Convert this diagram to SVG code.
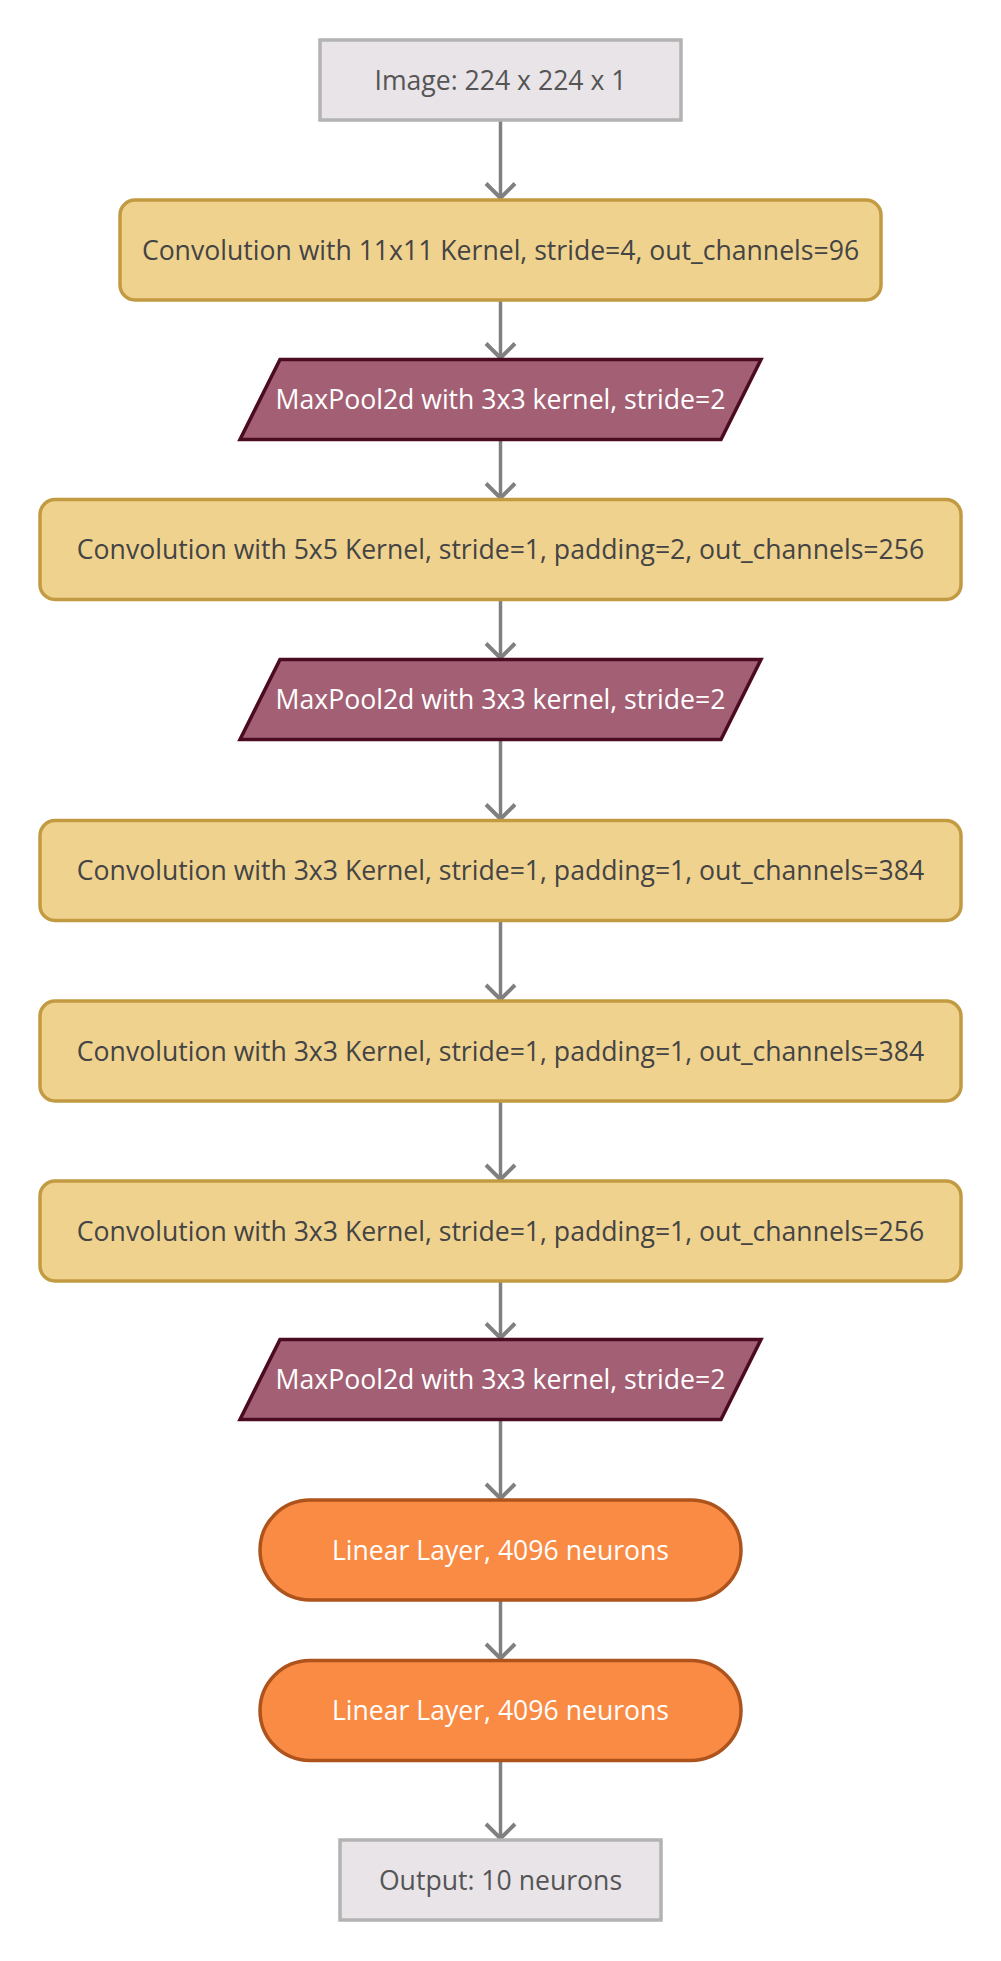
<svg xmlns="http://www.w3.org/2000/svg" width="1001" height="1961" viewBox="0 0 1001 1961">
<defs>
<style>
text{font-family:"Open Sans","Noto Sans","DejaVu Sans",sans-serif;font-size:26.6px;text-anchor:middle}
.io rect{fill:#e8e4e8;stroke:#b3b3b3;stroke-width:3.5}
.io text{fill:#555555}
.conv rect{fill:#f0d28f;stroke:#c29a42;stroke-width:3.5}
.conv text{fill:#444444}
.pool polygon{fill:#a36075;stroke:#4b0c22;stroke-width:3.5}
.pool text{fill:#ffffff}
.lin rect{fill:#f98b45;stroke:#ad531b;stroke-width:3.5}
.lin text{fill:#ffffff}
#edges path{stroke:#808080;stroke-width:3.5;fill:none}
</style>
<marker id="arr" markerUnits="userSpaceOnUse" markerWidth="40" markerHeight="40" refX="20" refY="20" orient="auto" viewBox="0 0 40 40">
<path d="M5.5,5.5 L20,20 L5.5,34.5" fill="none" stroke="#808080" stroke-width="4"/>
</marker>
</defs>
<rect width="1001" height="1961" fill="#ffffff"/>
<g id="edges">
<path d="M500.5,120 V198" marker-end="url(#arr)"/>
<path d="M500.5,300 V358" marker-end="url(#arr)"/>
<path d="M500.5,439.5 V498" marker-end="url(#arr)"/>
<path d="M500.5,599.5 V658" marker-end="url(#arr)"/>
<path d="M500.5,739.5 V819" marker-end="url(#arr)"/>
<path d="M500.5,920.5 V999.5" marker-end="url(#arr)"/>
<path d="M500.5,1100 V1179.5" marker-end="url(#arr)"/>
<path d="M500.5,1280.5 V1338" marker-end="url(#arr)"/>
<path d="M500.5,1419.5 V1498.5" marker-end="url(#arr)"/>
<path d="M500.5,1600 V1658.5" marker-end="url(#arr)"/>
<path d="M500.5,1760.5 V1838.5" marker-end="url(#arr)"/>
</g>
<g id="n0" class="io"><rect x="320" y="40" width="361" height="80"/><text x="500.5" y="89.5">Image: 224 x 224 x 1</text></g>
<g id="n1" class="conv"><rect x="120" y="200" width="761" height="100" rx="15"/><text x="500.5" y="259.5">Convolution with 11x11 Kernel, stride=4, out_channels=96</text></g>
<g id="n2" class="pool"><polygon points="280,359.5 761,359.5 721,439.5 240,439.5"/><text x="500.5" y="409">MaxPool2d with 3x3 kernel, stride=2</text></g>
<g id="n3" class="conv"><rect x="40" y="499.5" width="921" height="100" rx="15"/><text x="500.5" y="559">Convolution with 5x5 Kernel, stride=1, padding=2, out_channels=256</text></g>
<g id="n4" class="pool"><polygon points="280,659.5 761,659.5 721,739.5 240,739.5"/><text x="500.5" y="709">MaxPool2d with 3x3 kernel, stride=2</text></g>
<g id="n5" class="conv"><rect x="40" y="820.5" width="921" height="100" rx="15"/><text x="500.5" y="880">Convolution with 3x3 Kernel, stride=1, padding=1, out_channels=384</text></g>
<g id="n6" class="conv"><rect x="40" y="1001" width="921" height="100" rx="15"/><text x="500.5" y="1060.5">Convolution with 3x3 Kernel, stride=1, padding=1, out_channels=384</text></g>
<g id="n7" class="conv"><rect x="40" y="1181" width="921" height="100" rx="15"/><text x="500.5" y="1240.5">Convolution with 3x3 Kernel, stride=1, padding=1, out_channels=256</text></g>
<g id="n8" class="pool"><polygon points="280,1339.5 761,1339.5 721,1419.5 240,1419.5"/><text x="500.5" y="1389">MaxPool2d with 3x3 kernel, stride=2</text></g>
<g id="n9" class="lin"><rect x="260" y="1500" width="481" height="100" rx="50"/><text x="500.5" y="1559.5">Linear Layer, 4096 neurons</text></g>
<g id="n10" class="lin"><rect x="260" y="1660.5" width="481" height="100" rx="50"/><text x="500.5" y="1720">Linear Layer, 4096 neurons</text></g>
<g id="n11" class="io"><rect x="340" y="1840" width="321" height="80"/><text x="500.5" y="1889.5">Output: 10 neurons</text></g>
</svg>
